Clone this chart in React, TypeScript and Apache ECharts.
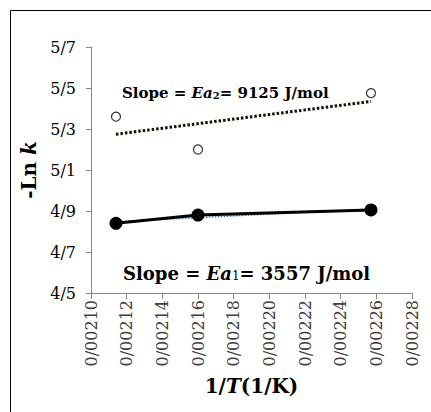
import React, { useEffect, useRef } from "react";
import * as echarts from "echarts";

// 1/T values (1/K) and -Ln k values
const INV_T = [0.002114, 0.00216, 0.002257];
const LNK_1 = [4.84, 4.88, 4.905]; // filled circles
const LNK_2 = [5.36, 5.2, 5.475]; // open circles

const X_TICKS = [0.0021, 0.00212, 0.00214, 0.00216, 0.00218, 0.0022, 0.00222, 0.00224, 0.00226, 0.00228];
const Y_TICKS = [4.5, 4.7, 4.9, 5.1, 5.3, 5.5, 5.7];

const SLOPE_1_TEXT = "3557 J/mol";
const SLOPE_2_TEXT = "9125 J/mol";

const SERIF = "DejaVu Serif";

function fitLine(xs: number[], ys: number[]): number[][] {
  const n = xs.length;
  const mx = xs.reduce((a, b) => a + b, 0) / n;
  const my = ys.reduce((a, b) => a + b, 0) / n;
  let sxy = 0;
  let sxx = 0;
  for (let i = 0; i < n; i++) {
    sxy += (xs[i] - mx) * (ys[i] - my);
    sxx += (xs[i] - mx) * (xs[i] - mx);
  }
  const b = sxy / sxx;
  const a = my - b * mx;
  const x0 = Math.min(...xs);
  const x1 = Math.max(...xs);
  return [
    [x0, a + b * x0],
    [x1, a + b * x1],
  ];
}

export default function App() {
  const ref = useRef<HTMLDivElement>(null);

  useEffect(() => {
    if (!ref.current) return;
    const chart = echarts.init(ref.current, undefined, { renderer: "svg" });
    const pts1 = INV_T.map((x, i) => [x, LNK_1[i]]);
    const pts2 = INV_T.map((x, i) => [x, LNK_2[i]]);

    chart.setOption({
      animation: false,
      backgroundColor: "#ffffff",
      textStyle: { fontFamily: SERIF },
      grid: { left: 91, right: 19, top: 47, bottom: 119, containLabel: false },
      xAxis: {
        type: "value",
        min: 0.0021,
        max: 0.00228,
        splitLine: { show: false },
        axisLine: { show: true, lineStyle: { color: "#868686", width: 1 } },
        axisTick: {
          show: true,
          length: 6,
          inside: false,
          customValues: X_TICKS,
          lineStyle: { color: "#868686" },
        },
        axisLabel: {
          rotate: 90,
          margin: 7,
          customValues: X_TICKS,
          fontFamily: SERIF,
          fontSize: 16,
          color: "#404040",
          formatter: (v: number) => v.toFixed(5).replace(".", "/"),
        },
        name: "{b|1/}{i|T}{b|(1/K)}",
        nameLocation: "middle",
        nameGap: 83,
        nameTextStyle: {
          fontFamily: SERIF,
          rich: {
            b: { fontFamily: SERIF, fontSize: 20, fontWeight: "bold", color: "#000" },
            i: { fontFamily: SERIF, fontSize: 20, fontWeight: "bold", fontStyle: "italic", color: "#000" },
          },
        },
      },
      yAxis: {
        type: "value",
        min: 4.5,
        max: 5.7,
        splitLine: { show: false },
        axisLine: { show: true, lineStyle: { color: "#868686", width: 1 } },
        axisTick: {
          show: true,
          length: 5,
          customValues: Y_TICKS,
          lineStyle: { color: "#868686" },
        },
        axisLabel: {
          margin: 15,
          customValues: Y_TICKS,
          fontFamily: SERIF,
          fontSize: 16,
          color: "#000",
          formatter: (v: number) => v.toFixed(1).replace(".", "/"),
        },
        name: "{b|-Ln }{i|k}",
        nameLocation: "middle",
        nameRotate: 90,
        nameGap: 52,
        nameTextStyle: {
          fontFamily: SERIF,
          rich: {
            b: { fontFamily: SERIF, fontSize: 20, fontWeight: "bold", color: "#000" },
            i: { fontFamily: SERIF, fontSize: 20, fontWeight: "bold", fontStyle: "italic", color: "#000" },
          },
        },
      },
      series: [
        {
          type: "line",
          data: fitLine(INV_T, LNK_1),
          symbol: "none",
          lineStyle: { color: "#2e75b6", width: 1.5, type: [1.5, 1.5] },
          z: 1,
        },
        {
          type: "line",
          data: pts1,
          symbol: "circle",
          symbolSize: 13,
          itemStyle: { color: "#000" },
          lineStyle: { color: "#000", width: 3 },
          z: 2,
        },
        {
          type: "line",
          data: fitLine(INV_T, LNK_2),
          symbol: "none",
          lineStyle: { color: "#1a0d00", width: 3, type: [2.5, 2] },
          z: 3,
        },
        {
          type: "scatter",
          data: pts2,
          symbol: "circle",
          symbolSize: 9,
          itemStyle: { color: "#fff", borderColor: "#000", borderWidth: 1.2 },
          z: 4,
        },
      ],
      graphic: [
        {
          type: "rect",
          shape: { x: 10.5, y: 10.5, width: 440, height: 420 },
          style: { fill: "none", stroke: "#000", lineWidth: 1 },
          silent: true,
        },
        {
          type: "text",
          x: 122,
          y: 93,
          style: {
            text: "{b|Slope = }{i|Ea}{s|2}{b|= " + SLOPE_2_TEXT + "}",
            verticalAlign: "middle",
            fontFamily: SERIF,
            rich: {
              b: { fontFamily: SERIF, fontSize: 15, fontWeight: "bold", fill: "#000" },
              i: { fontFamily: SERIF, fontSize: 15, fontWeight: "bold", fontStyle: "italic", fill: "#000" },
              s: { fontFamily: SERIF, fontSize: 10, fontWeight: "bold", fill: "#000", verticalAlign: "bottom" },
            },
          },
        },
        {
          type: "text",
          x: 123,
          y: 273,
          style: {
            text: "{b|Slope = }{i|Ea}{s|1}{b|= " + SLOPE_1_TEXT + "}",
            verticalAlign: "middle",
            fontFamily: SERIF,
            rich: {
              b: { fontFamily: SERIF, fontSize: 18, fontWeight: "bold", fill: "#000" },
              i: { fontFamily: SERIF, fontSize: 18, fontWeight: "bold", fontStyle: "italic", fill: "#000" },
              s: { fontFamily: SERIF, fontSize: 12, fill: "#000", verticalAlign: "bottom" },
            },
          },
        },
      ],
    });
    return () => chart.dispose();
  }, []);

  return (
    <div
      ref={ref}
      style={{ position: "absolute", left: 0, top: 0, width: 431, height: 412 }}
    />
  );
}
